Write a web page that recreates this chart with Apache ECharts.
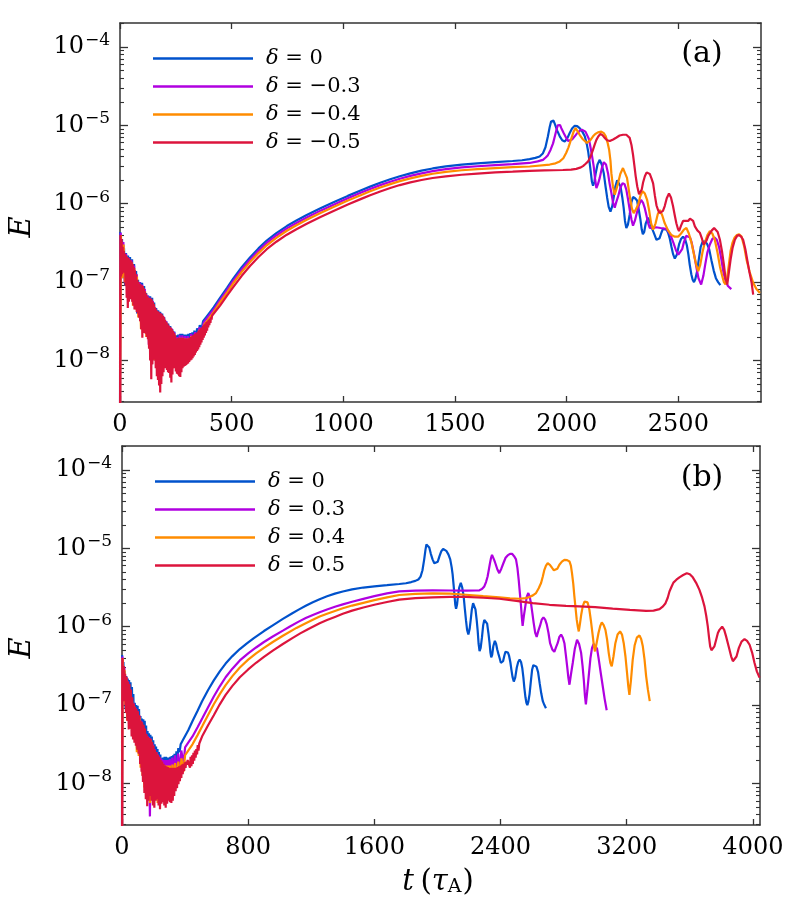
<!DOCTYPE html>
<html><head><meta charset="utf-8">
<script src="https://cdn.jsdelivr.net/npm/echarts@6/dist/echarts.min.js"></script>
<style>html,body{margin:0;padding:0;background:#fff}#c{width:788px;height:907px}</style>
</head><body><div id="c"></div>
<script>
// ---- Axis ranges / tick labels (y values are log10(E)) ----
const Y_MIN = -8.53, Y_MAX = -3.694;
const X_MAX_A = 2870, X_MAX_B = 4045;
const xTicksA = [0, 500, 1000, 1500, 2000, 2500];
const xTicksB = [0, 800, 1600, 2400, 3200, 4000];
const yMajor = [-8, -7, -6, -5, -4];

const namesA = ['δ = 0', 'δ = −0.3', 'δ = −0.4', 'δ = −0.5'];
const namesB = ['δ = 0', 'δ = 0.3', 'δ = 0.4', 'δ = 0.5'];
const colors = ['#0052cc', '#b000e0', '#ff8c00', '#dc143c'];

// ---- Data: [t (tau_A), log10 E] ----
// delta = 0 (same run in both panels)
const d0_noise = [[0,-9.0],[1,-6.36],[5,-6.9],[9,-6.45],[14,-6.95],[18,-6.57],[23,-7.05],[27,-6.63],[32,-7.1],[36,-6.66],[41,-7.2],[45,-6.68],[50,-7.2],[54,-6.71],[59,-7.25],[63,-6.77],[68,-7.3],[72,-6.86],[77,-7.4],[81,-6.97],[86,-7.45],[90,-7.0],[95,-7.55],[99,-7.01],[104,-7.6],[108,-7.05],[113,-7.6],[117,-7.14],[122,-7.7],[126,-7.17],[131,-7.8],[135,-7.18],[140,-7.9],[144,-7.20],[149,-7.9],[153,-7.26],[158,-8.0],[162,-7.33],[167,-8.05],[171,-7.36],[176,-8.1],[180,-7.38],[185,-8.0],[189,-7.40],[194,-8.0],[198,-7.45],[203,-8.0],[207,-7.50],[212,-7.95],[216,-7.53],[221,-8.0],[225,-7.56],[230,-8.0],[234,-7.60],[239,-8.0],[243,-7.63],[248,-7.95],[252,-7.68],[257,-7.95],[261,-7.67],[266,-7.95],[270,-7.66],[275,-7.95],[279,-7.66],[284,-7.9],[288,-7.67],[293,-7.9],[297,-7.67],[302,-7.9],[306,-7.66],[311,-7.85],[315,-7.65],[320,-7.85],[324,-7.64],[329,-7.8],[333,-7.62],[340,-7.75],[345,-7.59],[352,-7.68],[357,-7.55],[365,-7.6],[372,-7.50],[380,-7.52],[388,-7.44]];
const d0_trend = [[420,-7.32],[448,-7.20],[480,-7.07],[507,-6.955],[545,-6.81],[582,-6.685],[620,-6.57],[657,-6.47],[700,-6.375],[747,-6.285],[790,-6.215],[836,-6.145],[900,-6.055],[956,-5.982],[1020,-5.90],[1080,-5.828],[1120,-5.782],[1165,-5.733],[1210,-5.688],[1253,-5.649],[1300,-5.612],[1350,-5.578],[1400,-5.55],[1459,-5.523],[1530,-5.50],[1600,-5.485],[1680,-5.47],[1758,-5.455],[1800,-5.445],[1834,-5.43],[1860,-5.415],[1879,-5.397],[1893,-5.36],[1905,-5.28],[1916,-5.14],[1924,-5.02],[1930,-4.95],[1936,-4.925],[1941,-4.94],[1948,-4.99],[1958,-5.07],[1969,-5.14],[1980,-5.19],[1991,-5.205],[2002,-5.17],[2013,-5.10],[2024,-5.04],[2036,-5.006],[2047,-5.01],[2058,-5.036],[2070,-5.08],[2081,-5.14],[2090,-5.24],[2096,-5.33],[2102,-5.46],[2108,-5.60],[2113,-5.72],[2118,-5.77],[2124,-5.72],[2130,-5.61],[2138,-5.50],[2148,-5.44],[2157,-5.50],[2166,-5.61],[2174,-5.78],[2181,-5.92],[2188,-6.04],[2196,-6.10],[2204,-6.03],[2211,-5.91],[2218,-5.78],[2226,-5.70],[2234,-5.72],[2241,-5.78],[2249,-5.92],[2255,-6.05],[2261,-6.22],[2267,-6.31],[2274,-6.27],[2282,-6.14],[2290,-5.98],[2297,-5.915],[2306,-5.93],[2315,-5.96],[2323,-6.08],[2330,-6.20],[2336,-6.33],[2341,-6.39],[2347,-6.36],[2354,-6.25],[2364,-6.18],[2372,-6.22],[2379,-6.29],[2387,-6.35],[2394,-6.40],[2402,-6.46],[2409,-6.48],[2416,-6.44],[2424,-6.37],[2431,-6.32],[2439,-6.31],[2447,-6.33],[2454,-6.37],[2462,-6.45],[2469,-6.55],[2476,-6.64],[2484,-6.70],[2493,-6.65],[2503,-6.52],[2512,-6.45],[2521,-6.42],[2530,-6.45],[2538,-6.53],[2545,-6.65],[2551,-6.78],[2558,-6.90],[2564,-6.97],[2570,-7.00],[2576,-6.96],[2584,-6.86],[2592,-6.70],[2600,-6.55],[2608,-6.49],[2618,-6.48],[2628,-6.51],[2638,-6.58],[2648,-6.72],[2658,-6.85],[2668,-6.95],[2678,-7.00],[2688,-7.04]];

// panel (a): delta = -0.3
const m03_noise = [[0,-9.0],[3,-6.37],[9,-6.9],[15,-6.49],[21,-7.0],[27,-6.64],[33,-7.1],[39,-6.69],[45,-7.2],[51,-6.72],[57,-7.25],[63,-6.79],[69,-7.3],[75,-6.90],[81,-7.4],[87,-7.00],[93,-7.5],[99,-7.03],[105,-7.6],[111,-7.09],[117,-7.6],[123,-7.17],[129,-7.8],[135,-7.20],[141,-7.9],[147,-7.24],[153,-8.0],[159,-7.34],[165,-8.0],[171,-7.38],[177,-8.1],[183,-7.40],[189,-8.0],[195,-7.44],[201,-8.0],[207,-7.50],[213,-8.0],[219,-7.56],[225,-8.0],[231,-7.59],[237,-8.0],[243,-7.64],[249,-7.95],[255,-7.70],[261,-7.95],[267,-7.68],[273,-7.95],[279,-7.68],[285,-7.9],[291,-7.69],[297,-7.9],[303,-7.69],[311,-7.85],[319,-7.66],[327,-7.8],[336,-7.64],[346,-7.72],[356,-7.58],[366,-7.62],[376,-7.51],[390,-7.46]];
const m03_trend = [[420,-7.35],[448,-7.23],[480,-7.10],[507,-6.985],[545,-6.84],[582,-6.715],[620,-6.60],[657,-6.50],[700,-6.405],[747,-6.315],[790,-6.245],[836,-6.175],[900,-6.085],[956,-6.012],[1020,-5.93],[1080,-5.858],[1120,-5.812],[1165,-5.763],[1210,-5.72],[1253,-5.681],[1300,-5.645],[1350,-5.612],[1400,-5.585],[1459,-5.559],[1530,-5.537],[1600,-5.522],[1680,-5.508],[1758,-5.495],[1834,-5.48],[1870,-5.46],[1894,-5.44],[1906,-5.41],[1916,-5.38],[1928,-5.31],[1939,-5.23],[1947,-5.14],[1954,-5.06],[1960,-5.00],[1964,-4.98],[1970,-4.995],[1976,-5.036],[1987,-5.10],[1998,-5.16],[2006,-5.20],[2013,-5.22],[2024,-5.18],[2036,-5.14],[2047,-5.10],[2058,-5.07],[2068,-5.055],[2076,-5.06],[2084,-5.08],[2091,-5.10],[2099,-5.17],[2106,-5.27],[2114,-5.40],[2121,-5.524],[2127,-5.68],[2133,-5.80],[2140,-5.75],[2148,-5.67],[2157,-5.55],[2166,-5.47],[2176,-5.50],[2185,-5.61],[2192,-5.74],[2200,-5.86],[2207,-5.98],[2215,-6.05],[2222,-5.98],[2230,-5.91],[2240,-5.80],[2250,-5.737],[2259,-5.75],[2267,-5.82],[2275,-5.95],[2282,-6.076],[2290,-6.20],[2297,-6.28],[2305,-6.22],[2312,-6.14],[2322,-6.03],[2333,-5.95],[2342,-5.99],[2350,-6.06],[2358,-6.16],[2365,-6.25],[2372,-6.31],[2380,-6.33],[2390,-6.31],[2400,-6.30],[2420,-6.31],[2445,-6.32],[2455,-6.35],[2465,-6.40],[2478,-6.50],[2490,-6.60],[2500,-6.65],[2508,-6.67],[2517,-6.58],[2525,-6.49],[2535,-6.41],[2543,-6.39],[2552,-6.43],[2560,-6.50],[2570,-6.64],[2580,-6.80],[2590,-6.95],[2602,-7.03],[2612,-6.92],[2620,-6.78],[2630,-6.62],[2641,-6.52],[2652,-6.45],[2662,-6.43],[2672,-6.46],[2682,-6.55],[2692,-6.70],[2702,-6.88],[2712,-6.99],[2722,-7.05],[2737,-7.09]];

// panel (a): delta = -0.4
const m04_noise = [[0,-9.0],[4,-6.40],[10,-6.95],[16,-6.52],[22,-7.0],[28,-6.67],[34,-7.2],[40,-6.72],[46,-7.2],[52,-6.75],[58,-7.3],[64,-6.82],[70,-7.35],[76,-6.93],[82,-7.45],[88,-7.03],[94,-7.6],[100,-7.06],[106,-7.6],[112,-7.12],[118,-7.7],[124,-7.20],[130,-7.8],[136,-7.23],[142,-8.0],[148,-7.27],[154,-8.0],[160,-7.37],[166,-8.1],[172,-7.41],[178,-8.2],[184,-7.43],[190,-8.1],[196,-7.47],[202,-8.0],[208,-7.53],[214,-8.05],[220,-7.59],[226,-8.1],[232,-7.62],[238,-8.1],[244,-7.67],[250,-8.0],[256,-7.73],[262,-8.0],[268,-7.71],[274,-8.0],[280,-7.71],[286,-7.95],[292,-7.72],[298,-7.95],[304,-7.72],[312,-7.9],[320,-7.69],[328,-7.85],[337,-7.67],[347,-7.75],[357,-7.61],[367,-7.65],[377,-7.54],[392,-7.49]];
const m04_trend = [[420,-7.38],[448,-7.26],[480,-7.13],[507,-7.015],[545,-6.87],[582,-6.745],[620,-6.63],[657,-6.53],[700,-6.435],[747,-6.345],[790,-6.275],[836,-6.205],[900,-6.115],[956,-6.042],[1020,-5.96],[1080,-5.888],[1120,-5.842],[1165,-5.794],[1210,-5.75],[1253,-5.712],[1300,-5.677],[1350,-5.645],[1400,-5.618],[1459,-5.594],[1530,-5.573],[1600,-5.558],[1680,-5.545],[1758,-5.534],[1834,-5.525],[1924,-5.50],[1950,-5.485],[1969,-5.46],[1985,-5.42],[1998,-5.35],[2008,-5.28],[2016,-5.21],[2024,-5.14],[2031,-5.08],[2040,-5.036],[2048,-5.06],[2058,-5.12],[2070,-5.17],[2081,-5.20],[2090,-5.225],[2096,-5.23],[2106,-5.19],[2118,-5.14],[2128,-5.11],[2140,-5.09],[2155,-5.08],[2166,-5.10],[2175,-5.14],[2183,-5.22],[2190,-5.31],[2196,-5.45],[2200,-5.61],[2207,-5.78],[2215,-5.886],[2222,-5.82],[2230,-5.737],[2240,-5.62],[2252,-5.545],[2260,-5.57],[2270,-5.67],[2278,-5.82],[2285,-5.95],[2292,-6.06],[2300,-6.12],[2310,-6.07],[2320,-6.01],[2330,-5.90],[2340,-5.84],[2350,-5.87],[2360,-5.95],[2370,-6.10],[2378,-6.25],[2387,-6.33],[2398,-6.25],[2408,-6.13],[2417,-6.08],[2428,-6.15],[2439,-6.25],[2454,-6.34],[2469,-6.40],[2484,-6.42],[2499,-6.42],[2512,-6.38],[2525,-6.33],[2536,-6.31],[2547,-6.38],[2559,-6.50],[2570,-6.65],[2580,-6.78],[2589,-6.86],[2598,-6.78],[2608,-6.62],[2618,-6.50],[2630,-6.40],[2641,-6.35],[2652,-6.38],[2663,-6.46],[2675,-6.62],[2686,-6.80],[2696,-6.92],[2704,-7.0],[2711,-7.03],[2718,-6.95],[2726,-6.78],[2734,-6.60],[2742,-6.50],[2752,-6.43],[2762,-6.40],[2772,-6.39],[2783,-6.42],[2795,-6.55],[2805,-6.71],[2820,-6.88],[2835,-7.01],[2850,-7.09],[2865,-7.14]];

// panel (a): delta = -0.5
const m05_noise = [[0,-9.0],[2,-6.40],[5,-6.93],[7,-6.45],[10,-6.90],[12,-6.55],[15,-6.88],[17,-6.60],[20,-6.85],[22,-6.64],[25,-7.05],[27,-6.66],[30,-7.20],[32,-6.68],[35,-7.33],[37,-6.69],[40,-7.25],[42,-6.71],[45,-7.20],[47,-6.72],[50,-7.22],[52,-6.74],[55,-7.25],[57,-6.77],[60,-7.30],[62,-6.81],[65,-7.35],[67,-6.85],[70,-7.33],[72,-6.90],[75,-7.38],[77,-6.97],[80,-7.40],[82,-7.00],[85,-7.45],[87,-7.02],[90,-7.50],[92,-7.03],[95,-7.60],[97,-7.04],[100,-7.71],[102,-7.05],[105,-7.65],[107,-7.08],[110,-7.61],[112,-7.12],[115,-7.66],[117,-7.15],[120,-7.70],[122,-7.18],[125,-7.73],[127,-7.20],[130,-7.85],[132,-7.20],[135,-8.00],[137,-7.21],[140,-8.24],[142,-7.22],[145,-8.05],[147,-7.25],[150,-7.95],[152,-7.28],[155,-7.99],[157,-7.32],[160,-8.10],[162,-7.35],[165,-8.20],[167,-7.37],[170,-8.25],[172,-7.38],[175,-8.32],[177,-7.39],[180,-8.41],[182,-7.40],[185,-8.30],[187,-7.41],[190,-8.20],[192,-7.43],[195,-8.15],[197,-7.45],[200,-8.10],[202,-7.48],[205,-8.09],[207,-7.51],[210,-8.12],[212,-7.53],[215,-8.15],[217,-7.55],[220,-8.16],[222,-7.57],[225,-8.22],[227,-7.58],[230,-8.28],[232,-7.60],[235,-8.18],[237,-7.62],[240,-8.10],[242,-7.65],[245,-8.09],[247,-7.68],[250,-8.14],[252,-7.72],[255,-8.17],[257,-7.72],[260,-8.18],[262,-7.71],[265,-8.20],[267,-7.71],[270,-8.21],[272,-7.71],[275,-8.15],[277,-7.71],[280,-8.10],[282,-7.71],[285,-8.08],[287,-7.72],[290,-8.07],[292,-7.72],[295,-8.06],[297,-7.72],[300,-8.05],[302,-7.73],[305,-8.04],[307,-7.72],[310,-8.02],[312,-7.71],[315,-8.00],[317,-7.70],[320,-7.99],[322,-7.69],[325,-7.97],[327,-7.68],[330,-7.95],[332,-7.67],[335,-7.93],[337,-7.66],[340,-7.90],[342,-7.65],[345,-7.88],[347,-7.64],[350,-7.86],[352,-7.62],[355,-7.83],[357,-7.61],[360,-7.80],[362,-7.59],[365,-7.77],[367,-7.58],[370,-7.74],[372,-7.56],[375,-7.71],[377,-7.54],[380,-7.68],[382,-7.53],[385,-7.65],[387,-7.51],[390,-7.62],[392,-7.50],[395,-7.58],[397,-7.48],[400,-7.55],[402,-7.47],[405,-7.52],[407,-7.45],[410,-7.48],[412,-7.43],[415,-7.44]];
const m05_trend = [[420,-7.41],[448,-7.30],[480,-7.17],[507,-7.065],[545,-6.92],[582,-6.795],[620,-6.68],[657,-6.58],[700,-6.485],[747,-6.395],[790,-6.325],[836,-6.255],[900,-6.165],[956,-6.092],[1020,-6.01],[1080,-5.938],[1120,-5.892],[1165,-5.844],[1210,-5.80],[1253,-5.762],[1300,-5.727],[1350,-5.697],[1400,-5.672],[1459,-5.65],[1530,-5.63],[1600,-5.615],[1680,-5.60],[1758,-5.59],[1834,-5.58],[1900,-5.575],[1983,-5.57],[2020,-5.565],[2043,-5.555],[2060,-5.54],[2073,-5.52],[2085,-5.49],[2096,-5.46],[2108,-5.39],[2118,-5.31],[2126,-5.24],[2133,-5.185],[2142,-5.14],[2151,-5.11],[2160,-5.125],[2170,-5.16],[2181,-5.19],[2193,-5.20],[2208,-5.18],[2223,-5.155],[2237,-5.13],[2252,-5.12],[2260,-5.115],[2267,-5.12],[2275,-5.135],[2282,-5.16],[2290,-5.25],[2297,-5.375],[2303,-5.51],[2309,-5.65],[2316,-5.78],[2324,-5.88],[2330,-5.90],[2336,-5.82],[2342,-5.73],[2350,-5.65],[2358,-5.60],[2364,-5.59],[2372,-5.62],[2380,-5.68],[2387,-5.74],[2395,-5.90],[2402,-6.02],[2409,-6.08],[2416,-6.12],[2424,-6.14],[2431,-6.09],[2439,-6.03],[2448,-5.93],[2458,-5.87],[2467,-5.92],[2476,-6.03],[2484,-6.15],[2491,-6.25],[2498,-6.32],[2503,-6.35],[2512,-6.28],[2521,-6.22],[2532,-6.22],[2544,-6.22],[2552,-6.19],[2559,-6.18],[2566,-6.22],[2574,-6.29],[2585,-6.34],[2596,-6.37],[2606,-6.45],[2613,-6.52],[2618,-6.54],[2626,-6.47],[2634,-6.41],[2641,-6.38],[2650,-6.34],[2660,-6.31],[2668,-6.31],[2676,-6.36],[2686,-6.46],[2696,-6.62],[2704,-6.78],[2711,-6.95],[2719,-7.03],[2726,-6.88],[2734,-6.71],[2743,-6.56],[2753,-6.46],[2763,-6.41],[2772,-6.40],[2781,-6.42],[2790,-6.46],[2800,-6.58],[2808,-6.71],[2818,-6.87],[2828,-7.01],[2835,-7.16]];

// panel (b): delta = 0.3
const p03_noise = [[0,-9.0],[3,-6.38],[9,-6.9],[15,-6.52],[21,-7.0],[27,-6.65],[33,-7.1],[39,-6.70],[45,-7.25],[51,-6.80],[57,-7.3],[63,-6.92],[69,-7.35],[75,-6.98],[81,-7.4],[87,-7.04],[93,-7.5],[99,-7.08],[105,-7.6],[111,-7.14],[117,-7.7],[123,-7.20],[129,-7.9],[135,-7.28],[141,-8.0],[147,-7.35],[153,-8.1],[159,-7.39],[165,-8.2],[171,-7.41],[177,-8.42],[183,-7.43],[189,-8.2],[195,-7.50],[201,-8.2],[207,-7.56],[213,-8.2],[219,-7.60],[225,-8.2],[231,-7.64],[237,-8.2],[243,-7.67],[249,-8.1],[255,-7.69],[261,-8.1],[267,-7.70],[273,-8.1],[279,-7.70],[285,-8.1],[291,-7.70],[297,-8.1],[303,-7.69],[311,-8.0],[319,-7.67],[327,-8.0],[336,-7.64],[346,-7.95],[356,-7.62],[366,-7.85],[376,-7.58],[390,-7.75],[400,-7.54]];
const p03_trend = [[420,-7.48],[447,-7.40],[480,-7.28],[510,-7.165],[545,-7.03],[582,-6.89],[620,-6.76],[657,-6.645],[700,-6.535],[747,-6.43],[800,-6.34],[850,-6.265],[900,-6.195],[956,-6.125],[1020,-6.05],[1062,-6.00],[1120,-5.935],[1165,-5.89],[1210,-5.85],[1253,-5.815],[1300,-5.78],[1350,-5.745],[1400,-5.715],[1459,-5.682],[1530,-5.645],[1600,-5.61],[1680,-5.575],[1758,-5.55],[1860,-5.54],[1970,-5.537],[2080,-5.538],[2181,-5.54],[2240,-5.538],[2266,-5.535],[2282,-5.52],[2297,-5.486],[2308,-5.43],[2318,-5.36],[2326,-5.27],[2333,-5.19],[2340,-5.12],[2346,-5.083],[2353,-5.10],[2360,-5.15],[2367,-5.19],[2380,-5.27],[2392,-5.316],[2405,-5.26],[2418,-5.19],[2432,-5.12],[2445,-5.09],[2460,-5.07],[2473,-5.07],[2486,-5.10],[2498,-5.14],[2507,-5.25],[2515,-5.40],[2523,-5.58],[2530,-5.74],[2535,-5.88],[2540,-5.99],[2548,-5.86],[2557,-5.74],[2566,-5.62],[2576,-5.57],[2585,-5.62],[2593,-5.70],[2602,-5.83],[2610,-5.95],[2620,-6.08],[2629,-6.13],[2640,-6.05],[2650,-5.99],[2661,-5.91],[2672,-5.88],[2683,-5.91],[2693,-5.97],[2704,-6.08],[2714,-6.21],[2728,-6.29],[2741,-6.32],[2752,-6.26],[2762,-6.21],[2773,-6.13],[2784,-6.10],[2795,-6.14],[2805,-6.21],[2814,-6.36],[2822,-6.50],[2830,-6.65],[2837,-6.74],[2847,-6.60],[2858,-6.46],[2871,-6.28],[2885,-6.166],[2898,-6.22],[2911,-6.336],[2920,-6.50],[2928,-6.68],[2935,-6.88],[2941,-6.99],[2950,-6.82],[2959,-6.63],[2970,-6.40],[2980,-6.27],[2990,-6.22],[3001,-6.21],[3012,-6.28],[3023,-6.42],[3036,-6.60],[3048,-6.76],[3060,-6.92],[3073,-7.066]];

// panel (b): delta = 0.4
const p04_noise = [[0,-9.0],[4,-6.40],[10,-6.95],[16,-6.55],[22,-7.0],[28,-6.68],[34,-7.2],[40,-6.73],[46,-7.25],[52,-6.83],[58,-7.3],[64,-6.95],[70,-7.4],[76,-7.01],[82,-7.45],[88,-7.06],[94,-7.6],[100,-7.10],[106,-7.65],[112,-7.16],[118,-7.8],[124,-7.22],[130,-7.9],[136,-7.30],[142,-8.05],[148,-7.37],[154,-8.1],[160,-7.41],[166,-8.2],[172,-7.43],[178,-8.25],[184,-7.45],[190,-8.2],[196,-7.52],[202,-8.25],[208,-7.58],[214,-8.2],[220,-7.63],[226,-8.25],[232,-7.68],[238,-8.25],[244,-7.72],[250,-8.2],[256,-7.75],[262,-8.2],[268,-7.77],[274,-8.2],[280,-7.77],[286,-8.15],[292,-7.77],[298,-8.15],[304,-7.77],[312,-8.1],[320,-7.76],[328,-8.05],[337,-7.74],[347,-8.0],[357,-7.72],[367,-7.95],[377,-7.68],[390,-7.85],[400,-7.64]];
const p04_trend = [[420,-7.58],[447,-7.50],[480,-7.38],[510,-7.265],[545,-7.13],[582,-6.99],[620,-6.86],[657,-6.745],[700,-6.63],[747,-6.52],[800,-6.42],[850,-6.34],[900,-6.27],[956,-6.195],[1020,-6.115],[1106,-6.015],[1165,-5.955],[1210,-5.91],[1253,-5.87],[1300,-5.835],[1350,-5.80],[1400,-5.765],[1459,-5.73],[1530,-5.695],[1600,-5.66],[1680,-5.625],[1758,-5.595],[1860,-5.58],[1970,-5.575],[2080,-5.578],[2181,-5.592],[2290,-5.61],[2392,-5.626],[2460,-5.637],[2519,-5.643],[2560,-5.635],[2583,-5.62],[2605,-5.60],[2625,-5.57],[2642,-5.51],[2657,-5.443],[2668,-5.36],[2678,-5.274],[2688,-5.22],[2699,-5.19],[2713,-5.21],[2727,-5.25],[2738,-5.28],[2748,-5.295],[2760,-5.26],[2773,-5.21],[2789,-5.17],[2805,-5.146],[2822,-5.15],[2837,-5.167],[2846,-5.22],[2853,-5.316],[2861,-5.45],[2868,-5.61],[2876,-5.77],[2883,-5.91],[2890,-6.00],[2896,-6.06],[2903,-5.97],[2912,-5.84],[2921,-5.74],[2932,-5.68],[2942,-5.656],[2952,-5.69],[2963,-5.78],[2974,-5.94],[2985,-6.123],[2993,-6.26],[2999,-6.315],[3008,-6.22],[3021,-6.08],[3032,-5.99],[3042,-5.945],[3054,-5.98],[3065,-6.04],[3076,-6.17],[3086,-6.336],[3096,-6.46],[3105,-6.506],[3116,-6.38],[3128,-6.21],[3142,-6.10],[3158,-6.06],[3170,-6.10],[3181,-6.21],[3192,-6.38],[3202,-6.59],[3210,-6.76],[3217,-6.87],[3227,-6.68],[3238,-6.42],[3250,-6.24],[3264,-6.14],[3281,-6.11],[3292,-6.16],[3302,-6.25],[3313,-6.42],[3323,-6.63],[3334,-6.80],[3346,-6.95]];

// panel (b): delta = 0.5
const p05_noise = [[0,-9.0],[3,-6.40],[7,-6.85],[11,-6.50],[16,-6.95],[20,-6.60],[25,-7.10],[29,-6.64],[34,-7.20],[38,-6.70],[43,-7.31],[47,-6.73],[52,-7.30],[56,-6.80],[61,-7.40],[65,-6.90],[70,-7.44],[74,-6.98],[79,-7.48],[83,-7.02],[88,-7.52],[92,-7.05],[97,-7.57],[101,-7.08],[106,-7.62],[110,-7.13],[115,-7.75],[119,-7.20],[124,-7.85],[128,-7.22],[133,-7.98],[137,-7.25],[142,-8.12],[146,-7.30],[151,-8.20],[155,-7.37],[160,-8.29],[164,-7.40],[169,-8.22],[173,-7.42],[178,-8.16],[182,-7.43],[187,-8.22],[191,-7.47],[196,-8.28],[200,-7.52],[205,-8.31],[209,-7.57],[214,-8.22],[218,-7.60],[223,-8.20],[227,-7.63],[232,-8.28],[236,-7.66],[241,-8.33],[245,-7.70],[250,-8.26],[254,-7.72],[259,-8.24],[263,-7.75],[268,-8.28],[272,-7.77],[277,-8.31],[281,-7.78],[286,-8.26],[290,-7.79],[295,-8.22],[299,-7.80],[304,-8.24],[308,-7.80],[313,-8.25],[317,-7.80],[322,-8.22],[326,-7.80],[331,-8.16],[335,-7.80],[340,-8.10],[344,-7.80],[349,-8.06],[353,-7.79],[358,-8.01],[362,-7.78],[367,-7.97],[371,-7.77],[376,-7.93],[380,-7.76],[385,-7.88],[389,-7.75],[394,-7.84],[398,-7.73],[403,-7.80],[407,-7.72],[412,-7.76],[416,-7.70],[421,-7.72],[426,-7.68],[431,-7.80],[435,-7.66],[440,-7.78],[444,-7.64],[449,-7.75],[453,-7.61],[458,-7.71],[462,-7.58],[467,-7.67],[471,-7.56],[476,-7.63],[480,-7.51],[485,-7.58],[490,-7.49]];
const p05_trend = [[510,-7.39],[545,-7.26],[582,-7.13],[620,-6.99],[657,-6.87],[700,-6.755],[747,-6.645],[800,-6.545],[850,-6.46],[900,-6.385],[956,-6.305],[1020,-6.22],[1080,-6.145],[1130,-6.085],[1176,-6.035],[1253,-5.955],[1300,-5.915],[1350,-5.875],[1400,-5.835],[1459,-5.795],[1530,-5.755],[1600,-5.72],[1680,-5.685],[1758,-5.655],[1860,-5.635],[1970,-5.625],[2080,-5.62],[2181,-5.62],[2290,-5.63],[2392,-5.643],[2500,-5.67],[2604,-5.70],[2710,-5.72],[2815,-5.733],[2900,-5.74],[3000,-5.75],[3111,-5.77],[3220,-5.785],[3323,-5.797],[3370,-5.795],[3408,-5.776],[3430,-5.74],[3446,-5.70],[3460,-5.63],[3471,-5.55],[3484,-5.49],[3496,-5.437],[3515,-5.40],[3534,-5.37],[3558,-5.34],[3581,-5.317],[3600,-5.33],[3619,-5.37],[3640,-5.44],[3661,-5.53],[3678,-5.63],[3693,-5.74],[3704,-5.86],[3714,-5.995],[3722,-6.14],[3729,-6.25],[3737,-6.30],[3746,-6.315],[3756,-6.25],[3767,-6.165],[3778,-6.08],[3788,-6.04],[3805,-6.00],[3818,-6.04],[3830,-6.123],[3846,-6.25],[3862,-6.378],[3873,-6.44],[3883,-6.46],[3896,-6.38],[3911,-6.27],[3928,-6.19],[3947,-6.157],[3963,-6.18],[3979,-6.23],[3995,-6.33],[4010,-6.46],[4025,-6.57],[4042,-6.65]];

// ---- Build chart ----
const yMinor = [];
for (let n = -9; n <= -4; n++) for (let k = 2; k <= 9; k++) {
  const v = n + Math.log10(k);
  if (v > Y_MIN && v < Y_MAX) yMinor.push(v);
}
const AX = '#333';
const FONT = 'DejaVu Serif';
const grids = [
  {left: 120, top: 23, width: 641, height: 379},
  {left: 120, top: 23, width: 641, height: 379},
  {left: 122, top: 446, width: 638, height: 379},
  {left: 122, top: 446, width: 638, height: 379}
];
function xAxisMain(grid, max, ticks, pos, labels) {
  return {type: 'value', gridIndex: grid, min: 0, max: max, position: pos,
    axisLine: {show: true, onZero: false, lineStyle: {color: AX, width: 1.5}},
    axisTick: {show: true, inside: true, length: 6, customValues: ticks, lineStyle: {color: AX, width: 1.3}},
    axisLabel: {show: labels, customValues: ticks, margin: 11, fontFamily: FONT, fontSize: 24, color: '#000',
      formatter: v => String(v)},
    splitLine: {show: false}};
}
function xHidden(grid, max) {
  return {type: 'value', gridIndex: grid, min: 0, max: max, show: false, splitLine: {show: false}};
}
function yAxisMajor(grid, pos, labels) {
  return {type: 'value', gridIndex: grid, min: Y_MIN, max: Y_MAX, position: pos,
    axisLine: {show: true, onZero: false, lineStyle: {color: AX, width: 1.5}},
    axisTick: {show: true, inside: true, length: 8, customValues: yMajor, lineStyle: {color: AX, width: 1.3}},
    axisLabel: {show: labels, customValues: yMajor, margin: 10,
      formatter: v => '{b|10}{s|−' + Math.round(-v) + '}',
      rich: {b: {fontFamily: FONT, fontSize: 24, color: '#000'},
             s: {fontFamily: FONT, fontSize: 17, color: '#000', padding: [0, 0, 13, 1]}}},
    splitLine: {show: false}};
}
function yAxisMinor(grid, pos) {
  return {type: 'value', gridIndex: grid, min: Y_MIN, max: Y_MAX, position: pos,
    axisLine: {show: false, onZero: false},
    axisTick: {show: true, inside: true, length: 4, customValues: yMinor, lineStyle: {color: AX, width: 1.1}},
    axisLabel: {show: false}, splitLine: {show: false}};
}
function line(name, data, color, xi, yi) {
  return {type: 'line', name: name, data: data, xAxisIndex: xi, yAxisIndex: yi,
    symbol: 'none', showSymbol: false, clip: true, animation: false,
    lineStyle: {color: color, width: 2.2}, itemStyle: {color: color},
    emphasis: {disabled: true}};
}
const legendText = {fontFamily: FONT, fontSize: 21, color: '#000', padding: [0, 0, 0, 8],
  rich: {i: {fontFamily: FONT, fontSize: 21, fontStyle: 'italic', color: '#000'}}};
function legend(names, left, top) {
  return {data: names, left: left, top: top, orient: 'vertical', padding: 0,
    icon: 'rect', itemWidth: 100, itemHeight: 2.5,
    itemGap: 7, selectedMode: false, textStyle: legendText,
    formatter: n => n.replace('δ', '{i|δ}')};
}
const option = {
  animation: false,
  backgroundColor: '#fff',
  grid: grids,
  xAxis: [
    xAxisMain(0, X_MAX_A, xTicksA, 'bottom', true),
    xAxisMain(0, X_MAX_A, xTicksA, 'top', false),
    xHidden(1, X_MAX_A),
    xAxisMain(2, X_MAX_B, xTicksB, 'bottom', true),
    xAxisMain(2, X_MAX_B, xTicksB, 'top', false),
    xHidden(3, X_MAX_B)
  ],
  yAxis: [
    yAxisMajor(0, 'left', true), yAxisMajor(0, 'right', false),
    yAxisMinor(1, 'left'), yAxisMinor(1, 'right'),
    yAxisMajor(2, 'left', true), yAxisMajor(2, 'right', false),
    yAxisMinor(3, 'left'), yAxisMinor(3, 'right')
  ],
  legend: [legend(namesA, 153, 48), legend(namesB, 155, 471)],
  series: [
    line(namesA[0], d0_noise.concat(d0_trend), colors[0], 0, 0),
    line(namesA[1], m03_noise.concat(m03_trend), colors[1], 0, 0),
    line(namesA[2], m04_noise.concat(m04_trend), colors[2], 0, 0),
    line(namesA[3], m05_noise.concat(m05_trend), colors[3], 0, 0),
    line(namesB[0], d0_noise.concat(d0_trend), colors[0], 3, 4),
    line(namesB[1], p03_noise.concat(p03_trend), colors[1], 3, 4),
    line(namesB[2], p04_noise.concat(p04_trend), colors[2], 3, 4),
    line(namesB[3], p05_noise.concat(p05_trend), colors[3], 3, 4)
  ],
  graphic: [
    {type: 'text', x: 702, y: 54, style: {text: '(a)', fontFamily: FONT, fontSize: 30, fill: '#000', align: 'center', verticalAlign: 'middle'}},
    {type: 'text', x: 702, y: 478, style: {text: '(b)', fontFamily: FONT, fontSize: 30, fill: '#000', align: 'center', verticalAlign: 'middle'}},
    {type: 'text', x: 22, y: 227, rotation: Math.PI / 2, style: {text: 'E', fontFamily: FONT, fontStyle: 'italic', fontSize: 29, fill: '#000', align: 'center', verticalAlign: 'middle'}},
    {type: 'text', x: 22, y: 648, rotation: Math.PI / 2, style: {text: 'E', fontFamily: FONT, fontStyle: 'italic', fontSize: 29, fill: '#000', align: 'center', verticalAlign: 'middle'}},
    {type: 'text', x: 438, y: 882, style: {text: '{i|t}  {n|(}{i|τ}{sub|A}{n|)}', align: 'center', verticalAlign: 'middle',
      rich: {i: {fontFamily: FONT, fontStyle: 'italic', fontSize: 29, fill: '#000', color: '#000'},
             n: {fontFamily: FONT, fontSize: 29, fill: '#000', color: '#000'},
             sub: {fontFamily: FONT, fontSize: 19, fill: '#000', color: '#000', padding: [11, 1, 0, 0]}}}}
  ]
};
const chart = echarts.init(document.getElementById('c'), null, {renderer: 'canvas'});
chart.setOption(option);
</script></body></html>
